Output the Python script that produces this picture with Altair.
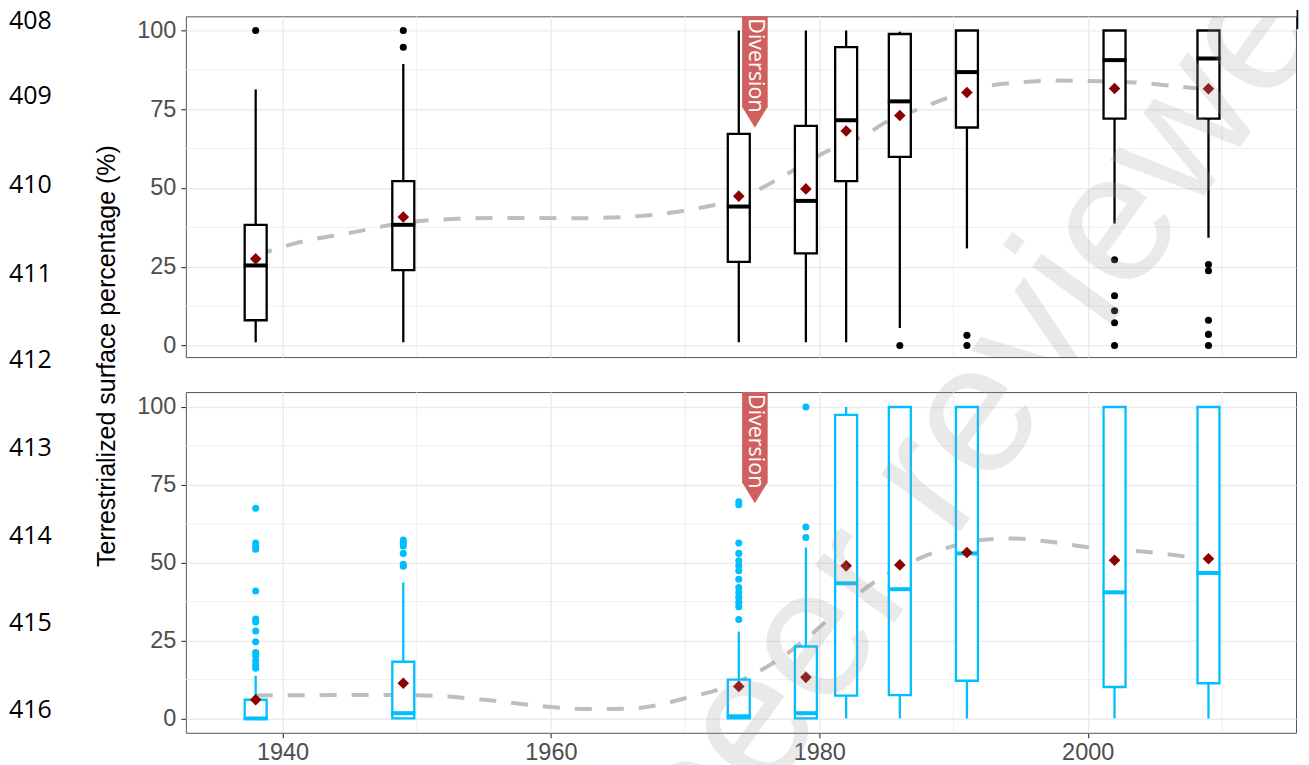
import altair as alt
import pandas as pd

# ---------------- data ----------------
years = [1938, 1949, 1974, 1979, 1982, 1986, 1991, 2002, 2009]

# top panel (black boxes)
top_low = [1.0, 1.0, 1.0, 1.0, 1.0, 5.5, 30.8, 38.7, 34.2]
top_q1 = [8.0, 23.9, 26.5, 29.2, 52.2, 59.9, 69.2, 72.0, 72.0]
top_med = [25.4, 38.3, 44.1, 45.9, 71.5, 77.5, 86.8, 90.6, 91.1]
top_q3 = [38.3, 52.2, 67.2, 69.7, 94.7, 98.9, 100.0, 100.0, 100.0]
top_high = [81.3, 89.4, 100.0, 100.0, 100.0, 99.6, 100.0, 100.0, 100.0]
top_mean = [27.5, 40.8, 47.4, 49.7, 68.1, 73.0, 80.3, 81.6, 81.5]
top_out_year = [1938, 1949, 1949, 1986, 1991, 1991,
                2002, 2002, 2002, 2002, 2002,
                2009, 2009, 2009, 2009, 2009]
top_out_val = [100.0, 100.0, 94.7, 0.0, 3.2, 0.0,
               27.2, 15.8, 11.0, 7.2, 0.0,
               25.7, 23.7, 8.0, 3.5, 0.0]
top_fit_year = [1938, 1941, 1945, 1949, 1953, 1957, 1962, 1966, 1969, 1971,
                1973, 1975, 1977, 1980.5, 1983.5, 1985, 1987.5, 1989.5,
                1992.3, 1994.5, 1997.7, 2000, 2004.5, 2007, 2009]
top_fit_val = [28.5, 32.5, 35.7, 38.9, 40.2, 40.5, 40.4, 40.9, 42.2, 43.6,
               45.5, 48.5, 53.0, 61.5, 67.0, 71.0, 75.2, 78.5,
               82.2, 83.4, 84.1, 84.0, 83.2, 82.1, 81.3]

# bottom panel (blue boxes)
bot_low = [0.0, 0.0, 0.0, 0.0, 0.0, 0.0, 0.0, 0.0, 0.0]
bot_q1 = [0.0, 0.0, 0.0, 0.0, 7.3, 7.5, 12.1, 10.1, 11.3]
bot_med = [0.0, 1.7, 0.7, 1.7, 43.4, 41.5, 53.0, 40.5, 46.7]
bot_q3 = [6.0, 18.2, 12.5, 23.1, 97.5, 100.0, 100.0, 100.0, 100.0]
bot_high = [13.7, 43.7, 27.9, 54.9, 100.0, 100.0, 100.0, 100.0, 100.0]
bot_mean = [6.0, 11.3, 10.3, 13.2, 49.0, 49.3, 53.3, 50.8, 51.3]
bot_out_year = [1938] * 14 + [1949] * 6 + [1974] * 14 + [1979] * 3
bot_out_val = [67.5, 56.3, 55.2, 54.3, 40.9, 31.9, 31.0, 28.1, 24.6, 21.2, 20.1, 18.5, 17.2, 16.1,
               57.3, 56.5, 55.4, 53.0, 49.5, 48.9,
               69.6, 68.6, 56.3, 53.0, 50.6, 49.0, 47.4, 44.7, 42.0, 40.4, 38.8, 37.2, 35.9, 31.8,
               100.0, 61.5, 58.1]
bot_fit_year = [1938, 1945, 1949, 1952, 1955, 1959, 1963, 1966, 1968, 1970,
                1972.5, 1975, 1977, 1979, 1981.5, 1984, 1986.5, 1989,
                1992, 1994.5, 1997, 2000, 2005, 2009]
bot_fit_val = [7.4, 7.5, 7.5, 7.1, 6.0, 4.1, 3.0, 3.2, 4.3, 6.5,
               9.3, 14.0, 19.0, 25.5, 35.0, 43.5, 49.5, 54.0,
               57.3, 57.8, 56.8, 55.0, 53.2, 51.0]

diversion_year = [1975.2]
diversion_level = [75.5]
diversion_label = ["Diversion"]

x_ticks = [1940, 1960, 1980, 2000]
x_minor = [1950, 1970, 1990, 2010]
y_ticks = [0, 25, 50, 75, 100]
y_minor = [12.5, 37.5, 62.5, 87.5]

y_title = "Terrestrialized surface percentage (%)"
line_numbers = ["408", "409", "410", "411", "412", "413", "414", "415", "416"]
# watermark "peer reviewed", split in two pieces
watermark_low = ["peer re"]
watermark_high = ["viewed"]
cursor_mark = ["|"]

# ---------------- layout / style ----------------
W, H = 1111, 341
X_DOM = [1933.17, 2015.15]
TOP_DOM = [-3.7, 104.5]
BOT_DOM = [-4.6, 104.8]
PANEL_TOP = 15
PANEL_LEFT = 185
GAP = 35
BOT_TOP = PANEL_TOP + H + GAP
# page y of the glyph centres of the line numbers
LINE_NUM_Y = [19, 94, 183, 272, 358, 446, 534, 621, 708]
# watermark anchors (page px): start of "peer re" and start of "viewed"
WM_LOW = (659.4, 849.0)
WM_HIGH = (1004.0, 374.8)

GRID = "#EBEBEB"
FONT = "Liberation Sans"
FLAG = "#D0605E"


def wm_text(txt, px, py, origin_y, clip):
    return alt.Chart(pd.DataFrame({"t": txt})).mark_text(
        angle=306, align="left", baseline="middle", font=FONT, fontSize=185,
        color="#A0A0A0", opacity=0.22, clip=clip).encode(
        x=alt.value(px - PANEL_LEFT), y=alt.value(py - origin_y), text="t:N")


def build_panel(low, q1, med, q3, high, mean, oy, ov, fy, fv, color, ydom, bottom, extras):
    xs = alt.Scale(domain=X_DOM, nice=False, zero=False)
    ys = alt.Scale(domain=ydom, nice=False, zero=False)
    if bottom:
        xaxis = alt.Axis(values=x_ticks, format="d", title=None, domain=False,
                         labelFont=FONT, labelFontSize=23.5, labelColor="#4D4D4D",
                         tickColor="#333333", tickSize=5, tickWidth=1.1, labelPadding=3,
                         grid=True, gridColor=GRID, gridWidth=1.4)
    else:
        xaxis = alt.Axis(values=x_ticks, title=None, domain=False, labels=False,
                         ticks=False, grid=True, gridColor=GRID, gridWidth=1.4)
    yaxis = alt.Axis(values=y_ticks, title=None, domain=False,
                     labelFont=FONT, labelFontSize=23.5, labelColor="#4D4D4D",
                     tickColor="#333333", tickSize=5, tickWidth=1.1, labelPadding=5,
                     grid=True, gridColor=GRID, gridWidth=1.4)

    box = pd.DataFrame({"year": years, "low": low, "q1": q1, "med": med,
                        "q3": q3, "high": high, "mean": mean})
    outs = pd.DataFrame({"year": oy, "v": ov})
    fit = pd.DataFrame({"year": fy, "v": fv})

    X = alt.X("year:Q", scale=xs, axis=xaxis)

    minor_x = alt.Chart(pd.DataFrame({"m": x_minor})).mark_rule(
        color=GRID, strokeWidth=0.8).encode(x=alt.X("m:Q", scale=xs, axis=xaxis))
    minor_y = alt.Chart(pd.DataFrame({"m": y_minor})).mark_rule(
        color=GRID, strokeWidth=0.8).encode(y=alt.Y("m:Q", scale=ys, axis=yaxis))

    smooth = alt.Chart(fit).mark_line(
        color="#BEBEBE", strokeWidth=4, strokeDash=[17, 15], interpolate="monotone"
    ).encode(x=X, y=alt.Y("v:Q", scale=ys, axis=yaxis))

    whisk = alt.Chart(box).mark_rule(color=color, strokeWidth=2.3).encode(
        x=X, y=alt.Y("low:Q", scale=ys, axis=yaxis), y2="high:Q")
    rect = alt.Chart(box).mark_bar(size=22, fill="white", stroke=color,
                                   strokeWidth=2.3, opacity=1).encode(
        x=X, y=alt.Y("q1:Q", scale=ys, axis=yaxis), y2="q3:Q")
    median = alt.Chart(box).mark_tick(orient="horizontal", size=24, thickness=4,
                                      color=color, opacity=1).encode(
        x=X, y=alt.Y("med:Q", scale=ys, axis=yaxis))
    outl = alt.Chart(outs).mark_circle(size=50, color=color, opacity=1).encode(
        x=X, y=alt.Y("v:Q", scale=ys, axis=yaxis))
    means = alt.Chart(box).mark_point(shape="diamond", size=135, filled=True,
                                      color="#8B0000", opacity=1).encode(
        x=X, y=alt.Y("mean:Q", scale=ys, axis=yaxis))

    flag_df = pd.DataFrame({"year": diversion_year, "lvl": diversion_level,
                            "lab": diversion_label})
    flag = alt.Chart(flag_df).mark_bar(size=25.6, color=FLAG, opacity=1).encode(
        x=X, y=alt.Y("lvl:Q", scale=ys, axis=yaxis), y2=alt.datum(ydom[1]))
    tip = alt.Chart(flag_df).mark_point(
        shape="M -1 -0.08 L 1 -0.08 L 0 1.5625 Z", size=655, filled=True,
        color=FLAG, opacity=1, strokeWidth=0).encode(
        x=X, y=alt.Y("lvl:Q", scale=ys, axis=yaxis))
    flag_txt = alt.Chart(flag_df).mark_text(
        angle=90, align="left", baseline="middle", font="Open Sans",
        fontSize=21.5, color="white").encode(x=X, y=alt.value(2), text="lab:N")

    if bottom:
        wm = wm_text(watermark_low, WM_LOW[0], WM_LOW[1], BOT_TOP, False)
    else:
        wm = wm_text(watermark_high, WM_HIGH[0], WM_HIGH[1], PANEL_TOP, True)

    layers = [minor_x, minor_y, smooth, whisk, rect, median, outl, means,
              flag, tip, flag_txt, wm] + extras
    return alt.layer(*layers).properties(width=W, height=H)


# extra texts living in the top panel (line numbers, y title, cursor)
extras = []
for lab, py in zip(line_numbers, LINE_NUM_Y):
    extras.append(
        alt.Chart(pd.DataFrame({"t": [lab]})).mark_text(
            align="left", baseline="alphabetic", font="Open Sans", fontSize=25,
            color="black").encode(x=alt.value(8 - PANEL_LEFT),
                                  y=alt.value(py + 9 - PANEL_TOP),
                                  text="t:N"))
extras.append(
    alt.Chart(pd.DataFrame({"t": [y_title]})).mark_text(
        angle=270, align="center", baseline="middle", font=FONT, fontSize=25,
        color="black").encode(x=alt.value(106 - PANEL_LEFT), y=alt.value(355 - PANEL_TOP),
                              text="t:N"))
extras.append(
    alt.Chart(pd.DataFrame({"t": cursor_mark})).mark_text(
        align="right", baseline="alphabetic", font=FONT, fontSize=20,
        color="black").encode(x=alt.value(1300 - PANEL_LEFT), y=alt.value(24 - PANEL_TOP),
                              text="t:N"))

top = build_panel(top_low, top_q1, top_med, top_q3, top_high, top_mean,
                  top_out_year, top_out_val, top_fit_year, top_fit_val,
                  "black", TOP_DOM, False, extras)
bottom = build_panel(bot_low, bot_q1, bot_med, bot_q3, bot_high, bot_mean,
                     bot_out_year, bot_out_val, bot_fit_year, bot_fit_val,
                     "#00BFFF", BOT_DOM, True, [])

chart = alt.vconcat(top, bottom, spacing=GAP, bounds="flush").properties(
    padding=0, background="white"
).configure_view(stroke="#555555", strokeWidth=1)

chart.save("out.html", embed_options={"renderer": "svg", "actions": False})
